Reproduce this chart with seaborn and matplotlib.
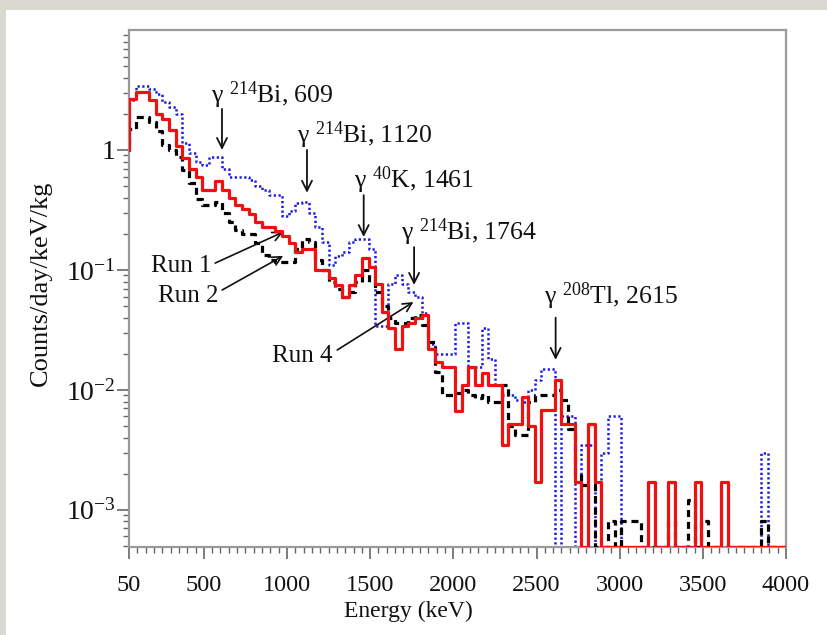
import numpy as np
import pandas as pd
import matplotlib
matplotlib.use("Agg")
import matplotlib.pyplot as plt
from matplotlib.patches import Rectangle
from matplotlib.ticker import FixedLocator, FixedFormatter, MultipleLocator, LogLocator, NullFormatter
import seaborn as sns

# ---------------- data (counts/day/keV/kg per 40 keV bin) ----------------
bin_start = 10      # keV, first (off-axis) bin edge
bin_width = 40      # keV
n_bins = 100

run1 = [1.0,
        2.65, 3.05, 3.05, 2.6, 2.0, 1.8, 1.47, 1.07, 0.85, 0.69,
        0.60, 0.46, 0.46, 0.55, 0.46, 0.40, 0.35, 0.32, 0.29, 0.25,
        0.23, 0.23, 0.21, 0.19, 0.167, 0.14, 0.15, 0.15, 0.10, 0.10,
        0.085, 0.075, 0.06, 0.075, 0.09, 0.125, 0.105, 0.077, 0.045, 0.033,
        0.022, 0.034, 0.036, 0.04, 0.042, 0.022, 0.017, 0.0156, 0.0156, 0.0067,
        0.011, 0.0156, 0.011, 0.0137, 0.011, 0.011, 0.0035, 0.0052, 0.0052, 0.0087,
        0.005, 0.0017, 0.0068, 0.0068, 0.012, 0.0052, 0.0052, 0.0017, 0, 0.0052,
        0.0017, 0, 0, 0, 0, 0, 0, 0, 0.0017, 0,
        0, 0.0017, 0, 0, 0, 0.0017, 0, 0, 0, 0.0017,
        0, 0, 0, 0, 0, 0, 0, 0, 0]

run2 = [1.0,
        1.5, 1.9, 1.9, 1.7, 1.43, 1.1, 1.0, 0.88, 0.68, 0.53,
        0.39, 0.35, 0.35, 0.37, 0.30, 0.25, 0.215, 0.2, 0.2, 0.167,
        0.133, 0.12, 0.116, 0.116, 0.116, 0.15, 0.18, 0.17, 0.12, 0.10,
        0.08, 0.07, 0.06, 0.065, 0.08, 0.10, 0.08, 0.065, 0.05, 0.04,
        0.036, 0.036, 0.04, 0.042, 0.035, 0.025, 0.014, 0.009, 0.009, 0.0095,
        0.010, 0.009, 0.0085, 0.009, 0.008, 0.008, 0.011, 0.005, 0.0042, 0.0042,
        0.008, 0.009, 0.009, 0.009, 0.010, 0.0083, 0.0047, 0.002, 0.0016, 0.0016,
        0, 0, 0.0008, 0, 0.0008, 0.0008, 0.0008, 0, 0, 0,
        0, 0.0008, 0, 0, 0.0012, 0, 0.0008, 0, 0, 0,
        0, 0, 0, 0, 0, 0.0008, 0, 0, 0]

run4 = [2.2,
        2.6, 3.4, 3.4, 3.2, 2.9, 2.5, 2.3, 2.0, 1.15, 0.95,
        0.8, 0.75, 0.88, 0.88, 0.69, 0.6, 0.6, 0.6, 0.56, 0.5,
        0.46, 0.42, 0.42, 0.28, 0.31, 0.36, 0.37, 0.3, 0.23, 0.17,
        0.11, 0.13, 0.14, 0.17, 0.18, 0.18, 0.15, 0.034, 0.034, 0.077,
        0.09, 0.077, 0.066, 0.06, 0.044, 0.024, 0.02, 0.02, 0.02, 0.036,
        0.036, 0.0156, 0.0156, 0.033, 0.018, 0.011, 0.009, 0.009, 0.0083, 0.008,
        0.01, 0.012, 0.015, 0.015, 0, 0.006, 0.006, 0, 0.0035, 0.0035,
        0, 0.003, 0.006, 0.006, 0, 0, 0, 0, 0, 0,
        0, 0, 0, 0, 0, 0, 0, 0, 0, 0,
        0, 0, 0, 0, 0, 0.003, 0, 0, 0]

x_ticks = [50, 500, 1000, 1500, 2000, 2500, 3000, 3500, 4000]
y_ticks = [1e-3, 1e-2, 1e-1, 1]
y_tick_labels = ["10$^{-3}$", "10$^{-2}$", "10$^{-1}$", "1"]

lines_info = [  # (label text, line energy, arrow top value, arrow bottom value, text x, text y)
    ("γ $^{214}$Bi, 609", 609, 2.2, 1.0, 545, 2.85),
    ("γ $^{214}$Bi, 1120", 1120, 1.0, 0.44, 1058, 1.33),
    ("γ $^{40}$K, 1461", 1461, 0.42, 0.188, 1405, 0.56),
    ("γ $^{214}$Bi, 1764", 1764, 0.155, 0.075, 1686, 0.207),
    ("γ $^{208}$Tl, 2615", 2615, 0.040, 0.0178, 2548, 0.0607),
]
run_labels = [  # (text, text x, text y, arrow start x, y, arrow end x, y)
    ("Run 1", 185, 0.108, 568, 0.114, 977, 0.207),
    ("Run 2", 222, 0.061, 610, 0.068, 977, 0.131),
    ("Run 4", 912, 0.0190, 1302, 0.0215, 1760, 0.054),
]

# ---------------- style ----------------
sns.set_style("ticks")
plt.rcParams["font.family"] = ["Liberation Serif", "DejaVu Serif"]
plt.rcParams["mathtext.fontset"] = "custom"
plt.rcParams["mathtext.rm"] = "Liberation Serif"
plt.rcParams["mathtext.it"] = "Liberation Serif:italic"
plt.rcParams["mathtext.bf"] = "Liberation Serif:bold"

fig = plt.figure(figsize=(8.27, 6.35), dpi=100, facecolor="#d9d9cf")
fig.patches.append(Rectangle((6 / 827, 0), 1 - 6 / 827, 1 - 10 / 635,
                             transform=fig.transFigure, facecolor="white",
                             edgecolor="none", zorder=-10))
ax = fig.add_axes([129 / 827, 1 - 547 / 635, (786 - 129) / 827, (547 - 30) / 635])
ax.set_zorder(5)
ax.set_facecolor("white")

ymin, ymax = 4.9e-4, 10.0
edges = bin_start + bin_width * np.arange(n_bins + 1)

def stepframe(vals):
    v = np.asarray(vals, dtype=float)
    v = np.where(v > 0, v, ymin)
    return pd.DataFrame({"E": edges, "v": np.append(v, v[-1])})

sns.lineplot(data=stepframe(run2), x="E", y="v", ax=ax, color="black",
             lw=2.3, linestyle=(0, (2.2, 1.5)), drawstyle="steps-post",
             estimator=None, sort=False, zorder=3)
sns.lineplot(data=stepframe(run4), x="E", y="v", ax=ax, color="#1a1ae6",
             lw=1.8, linestyle=(0, (0.9, 1.0)), drawstyle="steps-post",
             estimator=None, sort=False, zorder=2)
sns.lineplot(data=stepframe(run1), x="E", y="v", ax=ax, color="#f01010",
             lw=2.3, linestyle="-", drawstyle="steps-post",
             estimator=None, sort=False, zorder=4)

ax.set_yscale("log")
ax.set_xlim(50, 4000)
ax.set_ylim(ymin, ymax)

ax.xaxis.set_major_locator(FixedLocator(x_ticks))
ax.xaxis.set_minor_locator(MultipleLocator(50))
ax.yaxis.set_major_locator(FixedLocator(y_ticks))
ax.yaxis.set_major_formatter(FixedFormatter(y_tick_labels))
ax.yaxis.set_minor_locator(LogLocator(base=10, subs=np.arange(2, 10), numticks=20))
ax.yaxis.set_minor_formatter(NullFormatter())

spine_col = "#9a9a9a"
for s in ax.spines.values():
    s.set_color(spine_col)
    s.set_linewidth(1.6)
ax.tick_params(axis="both", which="major", direction="out", length=8.5, width=1.2,
               color="#666666", labelcolor="#111111")
ax.tick_params(axis="x", which="major", labelsize=17.5, pad=12)
ax.tick_params(axis="y", which="major", labelsize=20, pad=1)
ax.tick_params(axis="both", which="minor", direction="out", length=4.5, width=1.0,
               color="#666666")
ax.tick_params(top=False, right=False, which="both")

ax.set_xlabel("Energy (keV)", fontsize=17, labelpad=6, color="#111111")
ax.xaxis.set_label_coords((408 - 129) / 657, -0.105)
ax.set_ylabel("Counts/day/keV/kg", fontsize=19, labelpad=8, color="#111111")
ax.yaxis.set_label_coords(-0.118, 0.51)

for txt, e, ytop, ybot, tx, ty in lines_info:
    ax.annotate("", xy=(e, ybot), xytext=(e, ytop),
                arrowprops=dict(arrowstyle="->", lw=1.3, color="#111111",
                                mutation_scale=18, shrinkA=0, shrinkB=0))
    ax.text(tx, ty, txt, fontsize=18.5, ha="left", va="center", color="#111111")

for txt, tx, ty, ax0, ay0, ax1, ay1 in run_labels:
    ax.text(tx, ty, txt, fontsize=18, ha="left", va="center", color="#111111")
    ax.annotate("", xy=(ax1, ay1), xytext=(ax0, ay0),
                arrowprops=dict(arrowstyle="->", lw=1.2, color="#111111",
                                mutation_scale=16, shrinkA=0, shrinkB=0))

fig.savefig("out.png", dpi=100, facecolor=fig.get_facecolor())
